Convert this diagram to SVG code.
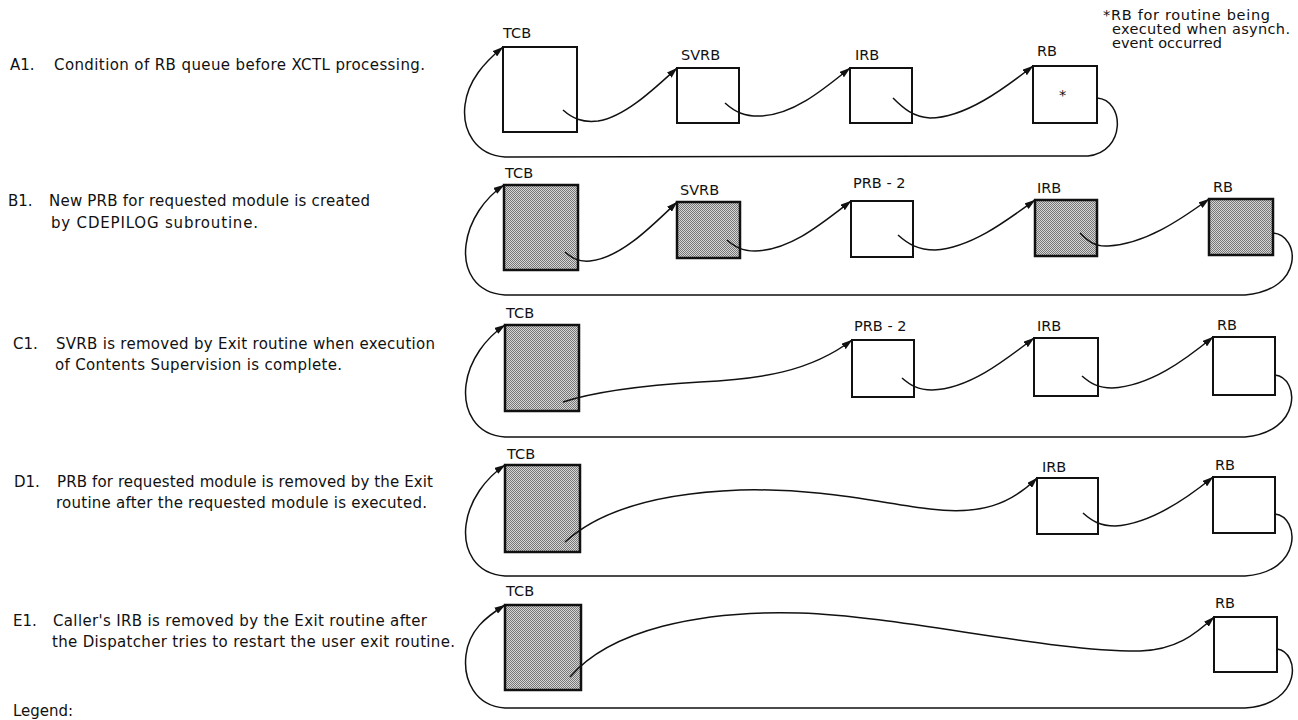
<svg xmlns="http://www.w3.org/2000/svg" width="1298" height="720" viewBox="0 0 1298 720">
<style>
.t{font-family:"DejaVu Sans","Liberation Sans",sans-serif;font-size:15px;fill:#111}
.d{font-family:"DejaVu Sans","Liberation Sans",sans-serif;font-size:14.5px;fill:#111}
.n{font-family:"DejaVu Sans","Liberation Sans",sans-serif;font-size:14.5px;fill:#111}
.w{fill:#fff;stroke:#111;stroke-width:2}
.s{fill:url(#dots);stroke:#111;stroke-width:2.5}
.c{fill:none;stroke:#111;stroke-width:1.5}
.a{marker-end:url(#ah)}
</style>
<defs>
<pattern id="dots" width="2" height="2" patternUnits="userSpaceOnUse">
<rect width="2" height="2" fill="#d6d6d6"/>
<rect width="1" height="1" fill="#777"/>
<rect x="1" y="1" width="1" height="1" fill="#777"/>
</pattern>
<marker id="ah" markerWidth="11" markerHeight="7" refX="10.5" refY="3.5" orient="auto" markerUnits="userSpaceOnUse">
<path d="M0,0 L11,3.5 L0,7 z" fill="#111"/>
</marker>
</defs>
<rect width="1298" height="720" fill="#fff"/>

<g id="captions">
<text class="t" x="10" y="70">A1.</text>
<text class="t" x="54" y="70" textLength="371" lengthAdjust="spacing">Condition of RB queue before XCTL processing.</text>
<text class="t" x="8" y="206">B1.</text>
<text class="t" x="49" y="206" textLength="321" lengthAdjust="spacing">New PRB for requested module is created</text>
<text class="t" x="51" y="228" textLength="207" lengthAdjust="spacing">by CDEPILOG subroutine.</text>
<text class="t" x="13" y="349">C1.</text>
<text class="t" x="56" y="349" textLength="379" lengthAdjust="spacing">SVRB is removed by Exit routine when execution</text>
<text class="t" x="55" y="370" textLength="287" lengthAdjust="spacing">of Contents Supervision is complete.</text>
<text class="t" x="14" y="487">D1.</text>
<text class="t" x="57" y="487" textLength="376" lengthAdjust="spacing">PRB for requested module is removed by the Exit</text>
<text class="t" x="56" y="508" textLength="371" lengthAdjust="spacing">routine after the requested module is executed.</text>
<text class="t" x="13" y="626">E1.</text>
<text class="t" x="53" y="626" textLength="374" lengthAdjust="spacing">Caller's IRB is removed by the Exit routine after</text>
<text class="t" x="52" y="647" textLength="403" lengthAdjust="spacing">the Dispatcher tries to restart the user exit routine.</text>
<text class="t" x="13" y="716" font-size="14">Legend:</text>
</g>

<g id="footnote">
<text class="d" x="1103" y="20" textLength="167" lengthAdjust="spacing">*RB for routine being</text>
<text class="d" x="1112" y="34" textLength="178" lengthAdjust="spacing">executed when asynch.</text>
<text class="d" x="1112" y="48" textLength="110" lengthAdjust="spacing">event occurred</text>
</g>

<g id="rowA">
<g id="A-TCB"><rect class="w" x="503" y="47" width="74" height="85"/><text class="n" x="503" y="38">TCB</text></g>
<g id="A-SVRB"><rect class="w" x="677" y="68" width="62" height="55"/><text class="n" x="681" y="60">SVRB</text></g>
<g id="A-IRB"><rect class="w" x="850" y="68" width="62" height="55"/><text class="n" x="855" y="60">IRB</text></g>
<g id="A-RB"><rect class="w" x="1033" y="66" width="64" height="57"/><text class="n" x="1037" y="56">RB</text><text class="n" x="1059" y="100" font-size="11">*</text></g>
</g>

<g id="rowB">
<g id="B-TCB"><rect class="s" x="504" y="185" width="74" height="85"/><text class="n" x="505" y="178">TCB</text></g>
<g id="B-SVRB"><rect class="s" x="677" y="202" width="63" height="56"/><text class="n" x="680" y="195">SVRB</text></g>
<g id="B-PRB2"><rect class="w" x="851" y="201" width="62" height="56"/><text class="n" x="853" y="188">PRB - 2</text></g>
<g id="B-IRB"><rect class="s" x="1035" y="200" width="62" height="56"/><text class="n" x="1037" y="193">IRB</text></g>
<g id="B-RB"><rect class="s" x="1209" y="199" width="64" height="56"/><text class="n" x="1213" y="192">RB</text></g>
</g>

<g id="rowC">
<g id="C-TCB"><rect class="s" x="505" y="325" width="74" height="86"/><text class="n" x="506" y="318">TCB</text></g>
<g id="C-PRB2"><rect class="w" x="852" y="340" width="62" height="57"/><text class="n" x="854" y="331">PRB - 2</text></g>
<g id="C-IRB"><rect class="w" x="1034" y="338" width="64" height="58"/><text class="n" x="1037" y="331">IRB</text></g>
<g id="C-RB"><rect class="w" x="1213" y="337" width="62" height="58"/><text class="n" x="1217" y="330">RB</text></g>
</g>

<g id="rowD">
<g id="D-TCB"><rect class="s" x="505" y="465" width="75" height="87"/><text class="n" x="507" y="459">TCB</text></g>
<g id="D-IRB"><rect class="w" x="1037" y="478" width="61" height="56"/><text class="n" x="1042" y="472">IRB</text></g>
<g id="D-RB"><rect class="w" x="1213" y="477" width="62" height="56"/><text class="n" x="1215" y="470">RB</text></g>
</g>

<g id="rowE">
<g id="E-TCB"><rect class="s" x="505" y="605" width="76" height="85"/><text class="n" x="506" y="596">TCB</text></g>
<g id="E-RB"><rect class="w" x="1214" y="617" width="63" height="55"/><text class="n" x="1215" y="608">RB</text></g>
</g>

<g id="connectors">
<path class="c a" d="M563,110 C572,118 582,123 598,121 C625,117 655,88 677,68"/>
<path class="c a" d="M725,103 C735,112 745,117 762,116 C795,114 825,88 850,68"/>
<path class="c a" d="M893,98 C903,108 913,117 930,118 C965,118 1005,88 1033,66"/>
<path class="c a" d="M1097,98 C1125,100 1126,152 1088,156 L505,157 C475,155 462,130 465,105 C468,80 485,62 503,47"/>

<path class="c a" d="M565,252 C572,258 578,262 590,261 C620,258 650,228 677,202"/>
<path class="c a" d="M727,240 C735,247 742,251 755,251 C790,250 820,225 851,201"/>
<path class="c a" d="M898,235 C908,244 918,250 935,250 C970,248 1005,222 1035,200"/>
<path class="c a" d="M1080,233 C1088,241 1095,247 1108,246 C1145,244 1180,220 1209,199"/>
<path class="c a" d="M1273,233 C1300,235 1305,290 1245,295 L505,295 C475,293 463,270 466,245 C469,220 485,198 504,185"/>

<path class="c a" d="M563,402 C600,390 650,385 700,382 C760,379 810,372 852,340"/>
<path class="c a" d="M902,378 C910,385 918,390 932,390 C968,389 1003,362 1034,338"/>
<path class="c a" d="M1082,376 C1090,383 1098,388 1112,388 C1150,386 1185,360 1213,337"/>
<path class="c a" d="M1275,375 C1300,378 1302,432 1245,437 L505,437 C475,435 463,410 466,385 C469,360 486,338 505,325"/>

<path class="c a" d="M565,542 C600,510 660,493 740,490 C820,488 880,503 930,509 C980,515 1010,505 1037,478"/>
<path class="c a" d="M1083,513 C1092,521 1100,526 1115,526 C1150,524 1185,500 1213,477"/>
<path class="c a" d="M1275,514 C1300,517 1303,572 1245,576 L505,576 C475,574 463,550 466,525 C469,500 486,478 505,465"/>

<path class="c a" d="M570,677 C610,630 700,610 800,613 C900,616 1050,652 1140,651 C1175,650 1195,635 1214,617"/>
<path class="c a" d="M1277,649 C1300,652 1303,704 1245,708 L505,708 C475,706 463,680 466,655 C469,630 486,617 505,605"/>
</g>
</svg>
